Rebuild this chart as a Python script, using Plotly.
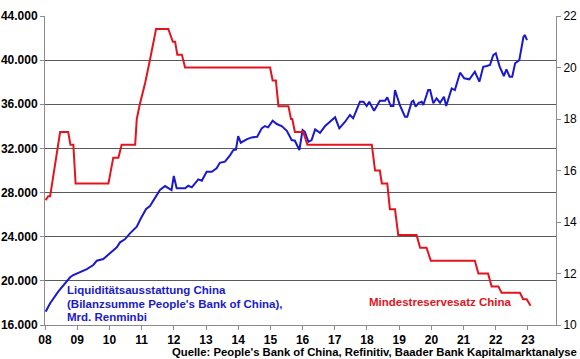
import plotly.graph_objects as go

# ---- data ----
# PBoC balance sheet total (bn RMB), x in decimal years
blue_x = [2008.02, 2008.16, 2008.41, 2008.62, 2008.78, 2008.88, 2009.09, 2009.30, 2009.50, 2009.61,
          2009.81, 2010.02, 2010.23, 2010.33, 2010.48, 2010.64, 2010.85, 2010.98, 2011.14, 2011.26,
          2011.42, 2011.57, 2011.73, 2011.93, 2012.00, 2012.09, 2012.35, 2012.45, 2012.56, 2012.76,
          2012.87, 2013.02, 2013.18, 2013.33, 2013.43, 2013.59, 2013.75, 2013.85, 2013.93, 2014.00,
          2014.08, 2014.26, 2014.42, 2014.59, 2014.73, 2014.83, 2014.93, 2015.07, 2015.20, 2015.35,
          2015.51, 2015.66, 2015.76, 2015.90, 2016.00, 2016.07, 2016.18, 2016.28, 2016.39, 2016.54,
          2016.70, 2016.85, 2017.01, 2017.14, 2017.32, 2017.47, 2017.57, 2017.78, 2017.89, 2017.99,
          2018.07, 2018.22, 2018.40, 2018.56, 2018.63, 2018.74, 2018.82, 2018.87, 2019.02, 2019.18,
          2019.25, 2019.39, 2019.44, 2019.51, 2019.61, 2019.70, 2019.75, 2019.85, 2019.90, 2019.96,
          2020.06, 2020.16, 2020.27, 2020.39, 2020.46, 2020.63, 2020.73, 2020.89, 2021.02, 2021.18,
          2021.35, 2021.49, 2021.61, 2021.72, 2021.82, 2021.92, 2022.00, 2022.12, 2022.25, 2022.33,
          2022.43, 2022.51, 2022.60, 2022.73, 2022.86, 2022.90, 2022.97]
blue_y = [17205, 17966, 19017, 19778, 20322, 20530, 20770, 21070, 21436, 21826,
          21980, 22494, 23040, 23490, 23764, 24308, 24906, 25667, 26510, 26780,
          27570, 28230, 28590, 28230, 29500, 28385, 28385, 28620, 28475, 29200,
          29075, 29890, 29890, 30200, 30700, 30800, 31400, 31855, 31900, 33120,
          32520, 32820, 33000, 33060, 33820, 34030, 33910, 34510, 34210, 34030,
          33600, 32760, 32700, 31855, 33670, 33510, 32600, 32760, 33730, 33420,
          34030, 34420, 34820, 33820, 34420, 35030, 34730, 36230, 36230, 35840,
          36230, 35420, 36320, 36320, 36630, 35840, 35840, 37290, 35930, 34870,
          34870, 36230, 36320, 35780, 36140, 36230, 35930, 36840, 37290, 37290,
          36090, 36540, 36140, 36680, 35840, 37440, 37290, 38860, 38350, 38260,
          38950, 38050, 39400, 39470, 39560, 40460, 40620, 39410, 38560, 39170,
          38500, 38500, 39720, 40000, 42120, 42280, 41820]

# Reserve requirement ratio (%), right axis
red_x = [2008.02, 2008.10, 2008.16, 2008.36, 2008.47, 2008.72, 2008.79, 2008.88, 2008.95, 2009.97,
         2010.12, 2010.28, 2010.38, 2010.80, 2010.85, 2010.95, 2011.11, 2011.26, 2011.45, 2011.83,
         2011.97, 2012.04, 2012.11, 2012.25, 2012.35, 2014.99, 2015.07, 2015.17, 2015.25, 2015.56,
         2015.64, 2015.68, 2015.76, 2016.02, 2016.15, 2018.15, 2018.25, 2018.40, 2018.46, 2018.63,
         2018.71, 2018.87, 2018.97, 2019.54, 2019.65, 2019.85, 2019.98, 2021.35, 2021.46, 2021.76,
         2021.87, 2022.08, 2022.18, 2022.75, 2022.85, 2022.96, 2023.08]
red_y = [14.85, 15.0, 15.0, 16.54, 17.5, 17.5, 17.0, 17.0, 15.5, 15.5,
         16.5, 16.5, 17.0, 17.0, 18.0, 18.6, 19.4, 20.3, 21.5, 21.5,
         21.0, 21.0, 20.5, 20.5, 20.0, 20.0, 19.5, 19.5, 18.5, 18.5,
         18.0, 18.0, 17.5, 17.5, 17.0, 17.0, 16.0, 16.0, 15.5, 15.5,
         14.5, 14.5, 13.5, 13.5, 13.0, 13.0, 12.5, 12.5, 12.0, 12.0,
         11.5, 11.5, 11.25, 11.25, 11.0, 11.0, 10.75]

year_ticks = list(range(2008, 2024))
year_labels = ["08", "09", "10", "11", "12", "13", "14", "15", "16", "17", "18", "19", "20", "21", "22", "23"]

BLUE = "#1a1acc"
RED = "#e3141e"
FONT = "Liberation Sans"

fig = go.Figure()
fig.add_trace(go.Scatter(x=red_x, y=red_y, mode="lines", yaxis="y2",
                         line=dict(color=RED, width=2), showlegend=False, hoverinfo="skip"))
fig.add_trace(go.Scatter(x=blue_x, y=blue_y, mode="lines", yaxis="y",
                         line=dict(color=BLUE, width=2), showlegend=False, hoverinfo="skip"))

axis_line = "#8c8c8c"
fig.update_layout(
    width=580, height=359,
    margin=dict(l=45, r=24, t=16, b=34),
    paper_bgcolor="white", plot_bgcolor="white",
    separators=",.",
    font=dict(family=FONT, size=11, color="black"),
    xaxis=dict(range=[2008, 2023.87], tickvals=year_ticks, ticktext=year_labels, automargin=False,
               showgrid=False, zeroline=False, showline=True, linecolor=axis_line, linewidth=1,
               ticks="outside", ticklen=4, tickcolor=axis_line,
               tickfont=dict(family=FONT, size=12, weight="bold", color="black")),
    yaxis=dict(range=[16000, 44000], dtick=4000, tick0=16000, tickformat=",.0f", automargin=False,
               showgrid=True, gridcolor="#5a5a5a", gridwidth=1, zeroline=False,
               showline=True, linecolor=axis_line, linewidth=1,
               ticks="outside", ticklen=4, tickcolor=axis_line,
               tickfont=dict(family=FONT, size=12, weight="bold", color="black")),
    yaxis2=dict(range=[10, 22], dtick=2, tick0=10, overlaying="y", side="right", automargin=False,
                showgrid=False, zeroline=False, showline=True, linecolor=axis_line, linewidth=1,
                ticks="outside", ticklen=4, tickcolor=axis_line,
                tickfont=dict(family=FONT, size=12, color="black")),
)

def note(text, x, y, color, anchor="left", size=11.5):
    fig.add_annotation(text=text, xref="paper", yref="paper", x=x, y=y,
                       xanchor=anchor, yanchor="middle", showarrow=False,
                       font=dict(family=FONT, size=size, color=color, weight="bold"))

px = lambda v: (v - 45) / 511
py = lambda v: (325 - v) / 309
note("Liquiditätsausstattung China", px(65), py(290), BLUE)
note("(Bilanzsumme People's Bank of China),", px(65), py(303.5), BLUE)
note("Mrd. Renminbi", px(65), py(317), BLUE)
note("Mindestreservesatz China", px(367), py(302), RED)
note("Quelle: People's Bank of China, Refinitiv, Baader Bank Kapitalmarktanalyse", px(579), py(352.5), "black", anchor="right", size=11.3)

fig.write_html("out.html", config={"displayModeBar": False},
               post_script="document.body.style.margin='0';document.body.style.overflow='hidden';")
